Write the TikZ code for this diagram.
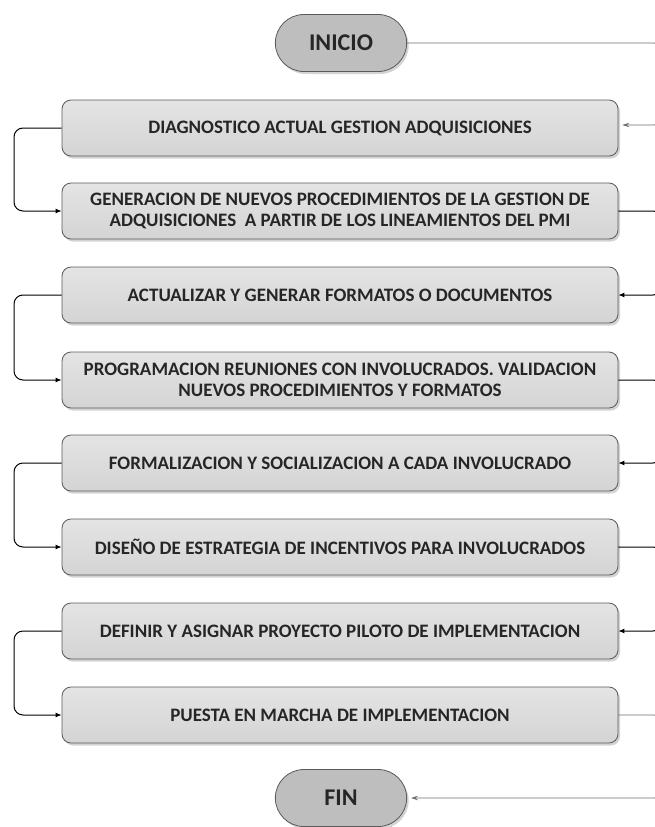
\documentclass[tikz,border=0pt]{standalone}
\usepackage{fontspec}
\setmainfont{Carlito}
\usetikzlibrary{arrows.meta,shadows,shapes.misc}
\definecolor{boxtop}{RGB}{228,228,228}
\definecolor{boxbot}{RGB}{212,212,212}
\definecolor{termfill}{RGB}{190,190,190}
\definecolor{border}{RGB}{90,90,90}
\definecolor{grayline}{RGB}{110,110,110}
\begin{document}
\begin{tikzpicture}[x=1pt,y=-1pt,
  stepbox/.style={rectangle, rounded corners=9pt, draw=border, line width=0.8pt,
    top color=boxtop, bottom color=boxbot, minimum width=556pt, minimum height=56pt,
    align=center, font=\bfseries\fontsize{19}{20.5}\selectfont, text=black!85,
    drop shadow={shadow xshift=2pt, shadow yshift=-2.5pt, opacity=0.35, fill=gray}},
  termbox/.style={rounded rectangle, draw=border, line width=0.8pt,
    fill=termfill, minimum width=138pt, minimum height=57pt,
    font=\bfseries\fontsize{24}{26}\selectfont, text=black!85,
    drop shadow={shadow xshift=2pt, shadow yshift=-2.5pt, opacity=0.35, fill=gray}},
  blk/.style={draw=black, line width=1pt, rounded corners=9pt},
  gry/.style={draw=grayline, line width=0.8pt, rounded corners=8pt},
  blkarrow/.style={-{Latex[length=6pt,width=5pt]}},
  gryarrow/.style={-{Stealth[length=7pt,width=4.5pt,inset=2.5pt]}, shorten >=4pt}
]
\useasboundingbox (0,0) rectangle (655,827);

\node[termbox] (ini) at (341,43) {INICIO};
\node[stepbox] (b1) at (340,128) {DIAGNOSTICO ACTUAL GESTION ADQUISICIONES};
\node[stepbox] (b2) at (340,211) {GENERACION DE NUEVOS PROCEDIMIENTOS DE LA GESTION DE\\ADQUISICIONES\ \ A PARTIR DE LOS LINEAMIENTOS DEL PMI};
\node[stepbox] (b3) at (340,295) {ACTUALIZAR Y GENERAR FORMATOS O DOCUMENTOS};
\node[stepbox] (b4) at (340,380) {PROGRAMACION REUNIONES CON INVOLUCRADOS. VALIDACION\\NUEVOS PROCEDIMIENTOS Y FORMATOS};
\node[stepbox] (b5) at (340,463) {FORMALIZACION Y SOCIALIZACION A CADA INVOLUCRADO};
\node[stepbox] (b6) at (340,547) {DISEÑO DE ESTRATEGIA DE INCENTIVOS PARA INVOLUCRADOS};
\node[stepbox] (b7) at (340,631) {DEFINIR Y ASIGNAR PROYECTO PILOTO DE IMPLEMENTACION};
\node[stepbox] (b8) at (340,715) {PUESTA EN MARCHA DE IMPLEMENTACION};
\node[termbox] (fin) at (341,798) {FIN};

% left loops
\foreach \a/\b in {b1/b2,b3/b4,b5/b6,b7/b8}{
  \draw[blk,blkarrow] (\a.west) -- (14,0 |- \a.west) -- (14,0 |- \b.west) -- (\b.west);
}
% right connectors (leaving the frame)
\draw[gry,gryarrow] (ini.east) -- (662,43) -- (662,125) -- ([yshift=3pt]b1.east);
\draw[blk,blkarrow] (b2.east) -- (662,211) -- (662,295) -- (b3.east);
\draw[blk,blkarrow] (b4.east) -- (662,380) -- (662,463) -- (b5.east);
\draw[blk,blkarrow] (b6.east) -- (662,547) -- (662,631) -- (b7.east);
\draw[gry,gryarrow] (b8.east) -- (662,715) -- (662,798) -- (fin.east);
\end{tikzpicture}
\end{document}
